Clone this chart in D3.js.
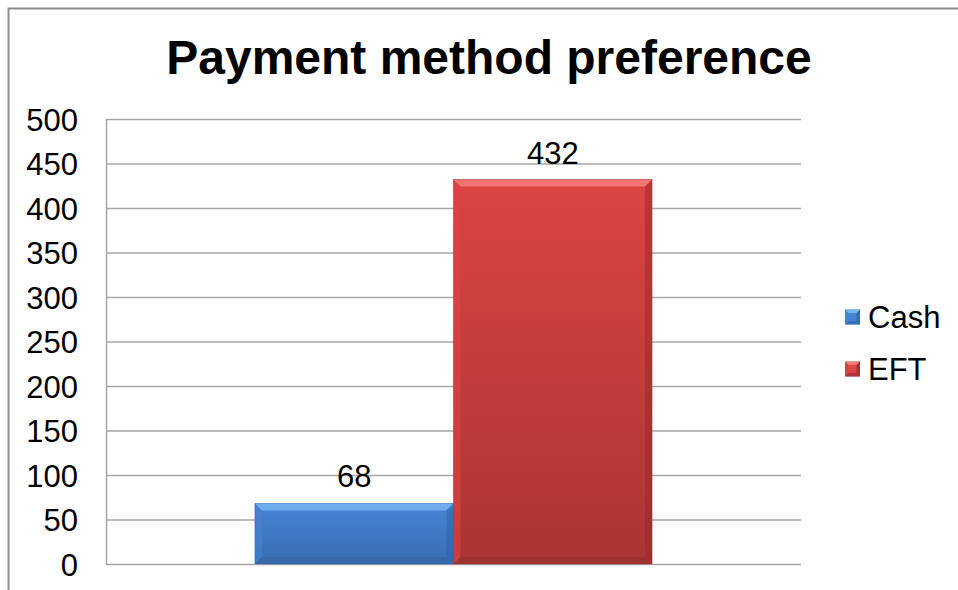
<!DOCTYPE html>
<html>
<head>
<meta charset="utf-8">
<script src="https://cdn.jsdelivr.net/npm/d3@7"></script>
<style>
  html, body { margin: 0; padding: 0; background: #fff; }
  svg { display: block; }
</style>
</head>
<body>
<svg id="chart" width="958" height="590"></svg>
<script>
// Survey results: how respondents prefer to pay
const categories = ["Payment method"];
const seriesNames = ["Cash", "EFT"];
const seriesValues = [68, 432];
const yTicks = [0, 50, 100, 150, 200, 250, 300, 350, 400, 450, 500];
const chartTitle = "Payment method preference";

const palette = {
  Cash: { top: "#4584d4", bottom: "#3a6db2", light: "#78b4f2", dark: "#2f5f9e", edge: "#2f5f9c" },
  EFT:  { top: "#dc4443", bottom: "#a93533", light: "#f47c7a", dark: "#8e2a28", edge: "#9a2e2c" }
};

const svg = d3.select("#chart");
const W = 958, H = 590;
const plot = { left: 106, top: 119, right: 801, bottom: 564 };
const font = "'Liberation Sans', Arial, sans-serif";
const labelSize = 31;

// outer chart frame
svg.append("rect")
  .attr("x", 8.5).attr("y", 8.5)
  .attr("width", W + 20).attr("height", H + 20)
  .attr("fill", "none").attr("stroke", "#8c8c8c").attr("stroke-width", 2);

// title
svg.append("text")
  .attr("x", 489).attr("y", 74)
  .attr("text-anchor", "middle")
  .attr("font-family", font).attr("font-weight", "bold")
  .attr("font-size", 48).attr("fill", "#000")
  .text(chartTitle);

const y = d3.scaleLinear().domain([0, 500]).range([plot.bottom, plot.top]);
// one category band; the two series share it with a 150% gap width
const x0 = d3.scaleBand().domain(categories).range([plot.left, plot.right]).padding(0);
const catW = x0.bandwidth();
const gapFrac = 0.75 / 3.5;
const x1 = d3.scaleBand().domain(seriesNames)
  .range([catW * gapFrac, catW * (1 - gapFrac)]).padding(0);

// gridlines
svg.append("g")
  .selectAll("line").data(yTicks).join("line")
  .attr("x1", plot.left).attr("x2", plot.right)
  .attr("y1", d => y(d) + 0.5).attr("y2", d => y(d) + 0.5)
  .attr("stroke", "#a6a6a6").attr("stroke-width", 1.3);

// y axis
const yAxis = d3.axisLeft(y).tickValues(yTicks).tickSize(0).tickPadding(28);
const gy = svg.append("g").attr("transform", `translate(${plot.left},0)`).call(yAxis);
gy.select(".domain").attr("stroke", "#a6a6a6").attr("stroke-width", 1.5);
gy.selectAll("text")
  .attr("font-family", font).attr("font-size", labelSize).attr("fill", "#000")
  .attr("dy", "0.36em");

// gradients for bars
const defs = svg.append("defs");
seriesNames.forEach(name => {
  const g = defs.append("linearGradient").attr("id", "grad-" + name)
    .attr("x1", 0).attr("y1", 0).attr("x2", 0).attr("y2", 1);
  g.append("stop").attr("offset", "0%").attr("stop-color", palette[name].top);
  g.append("stop").attr("offset", "100%").attr("stop-color", palette[name].bottom);
});

// bevelled bars
const bev = 7;
const bars = svg.append("g")
  .selectAll("g").data(seriesNames.map((n, i) => ({ name: n, value: seriesValues[i] })))
  .join("g")
  .attr("transform", `translate(${x0(categories[0])},0)`);

bars.each(function(d) {
  const g = d3.select(this);
  const bx = x1(d.name), bw = x1.bandwidth();
  const by = y(d.value), bh = y(0) - y(d.value);
  const c = palette[d.name];
  g.append("rect").attr("x", bx).attr("y", by).attr("width", bw).attr("height", bh)
    .attr("fill", `url(#grad-${d.name})`);
  const b = Math.min(bev, bh / 2);
  // top bevel
  g.append("path").attr("d", `M${bx},${by}L${bx + bw},${by}L${bx + bw - b},${by + b}L${bx + b},${by + b}Z`)
    .attr("fill", c.light).attr("opacity", 0.85);
  // left bevel
  g.append("path").attr("d", `M${bx},${by}L${bx + b},${by + b}L${bx + b},${by + bh - b}L${bx},${by + bh}Z`)
    .attr("fill", c.top).attr("opacity", 0.6);
  // right bevel
  g.append("path").attr("d", `M${bx + bw},${by}L${bx + bw},${by + bh}L${bx + bw - b},${by + bh - b}L${bx + bw - b},${by + b}Z`)
    .attr("fill", c.dark).attr("opacity", 0.45);
  // bottom bevel
  g.append("path").attr("d", `M${bx},${by + bh}L${bx + b},${by + bh - b}L${bx + bw - b},${by + bh - b}L${bx + bw},${by + bh}Z`)
    .attr("fill", c.dark).attr("opacity", 0.4);
  g.append("rect").attr("x", bx).attr("y", by).attr("width", bw).attr("height", bh)
    .attr("fill", "none").attr("stroke", c.edge).attr("stroke-width", 0.8).attr("opacity", 0.5);
  // value label
  g.append("text")
    .attr("x", bx + bw / 2).attr("y", by - 16)
    .attr("text-anchor", "middle")
    .attr("font-family", font).attr("font-size", labelSize).attr("fill", "#000")
    .text(d.value);
});

// legend
const legend = svg.append("g").attr("transform", "translate(845,317)")
  .selectAll("g").data(seriesNames).join("g")
  .attr("transform", (d, i) => `translate(0,${i * 52})`);
legend.each(function(name) {
  const g = d3.select(this);
  const c = palette[name];
  const s = 15, b = 3.5;
  g.append("rect").attr("x", 0).attr("y", -s / 2).attr("width", s).attr("height", s)
    .attr("fill", c.top);
  g.append("path").attr("d", `M0,${-s/2}L${s},${-s/2}L${s-b},${-s/2+b}L${b},${-s/2+b}Z`).attr("fill", c.light);
  g.append("path").attr("d", `M${s},${-s/2}L${s},${s/2}L${s-b},${s/2-b}L${s-b},${-s/2+b}Z`).attr("fill", c.dark).attr("opacity", 0.7);
  g.append("path").attr("d", `M0,${s/2}L${b},${s/2-b}L${s-b},${s/2-b}L${s},${s/2}Z`).attr("fill", c.dark).attr("opacity", 0.6);
  g.append("text").attr("x", 23).attr("y", 0).attr("dy", "0.36em")
    .attr("font-family", font).attr("font-size", labelSize).attr("fill", "#000")
    .text(name);
});
</script>
</body>
</html>
